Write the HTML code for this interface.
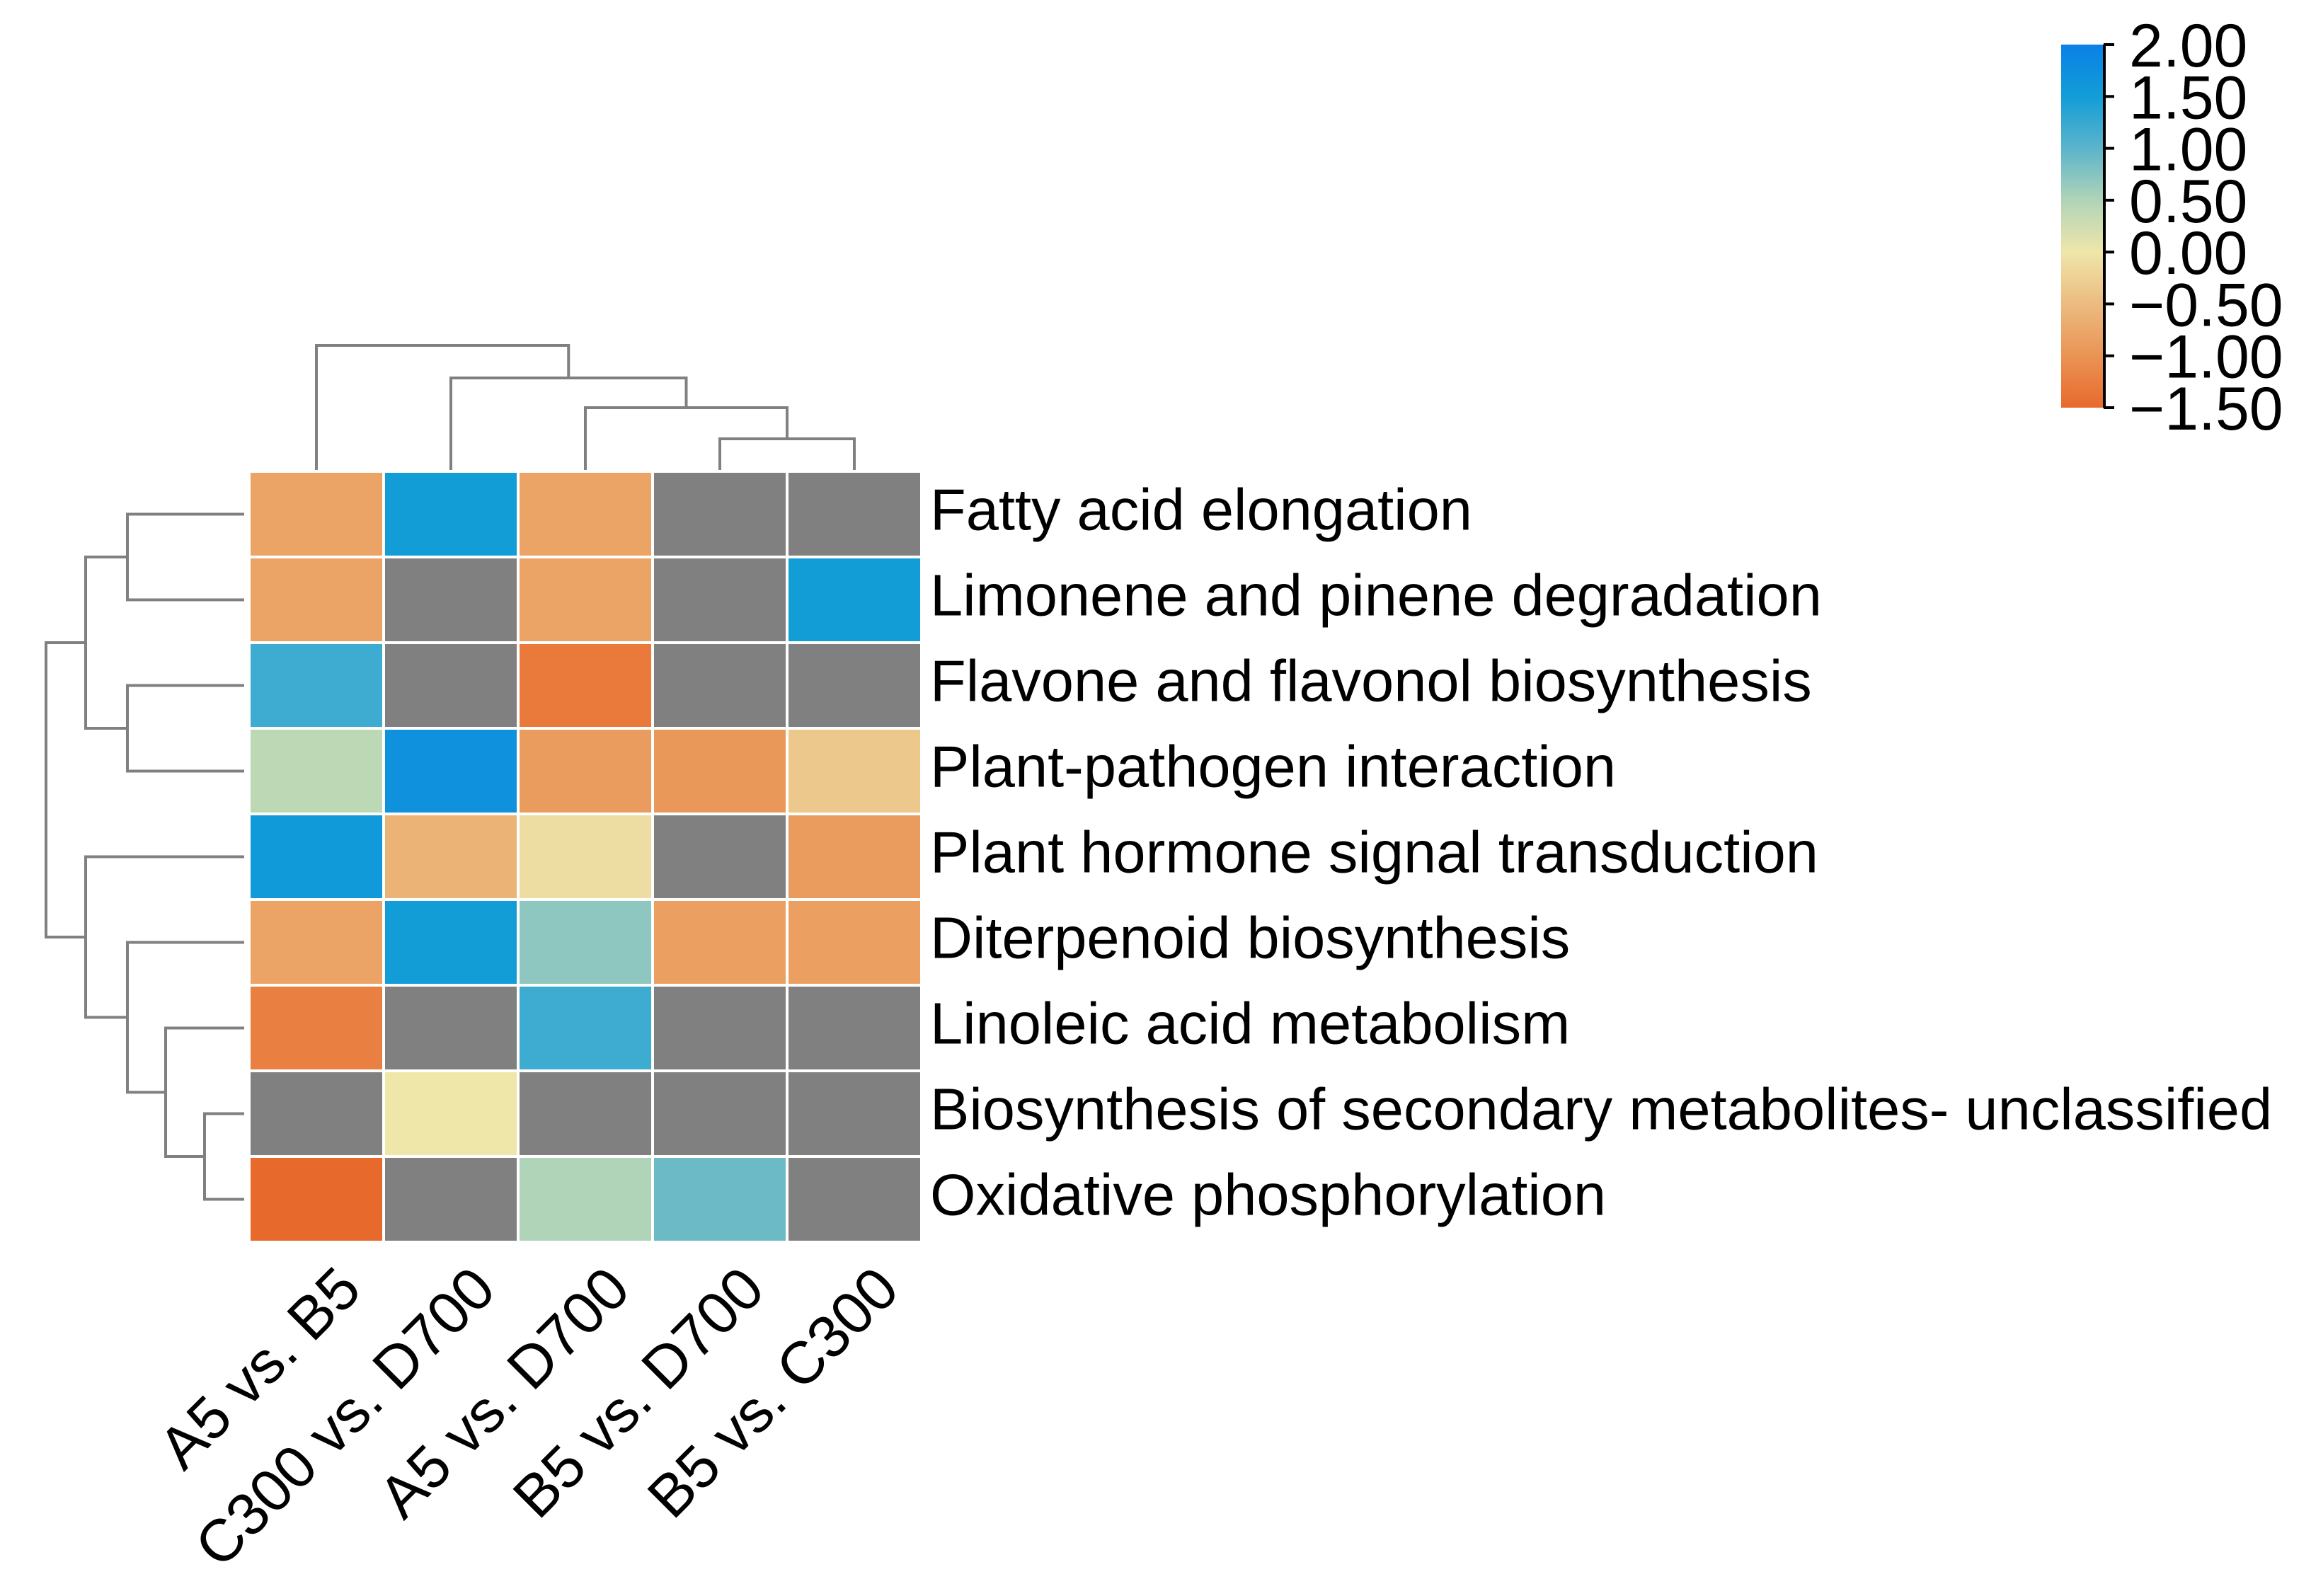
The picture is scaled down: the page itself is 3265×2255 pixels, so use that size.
<!DOCTYPE html>
<html><head><meta charset="utf-8"><style>
html,body{margin:0;padding:0;background:#fff;}
svg{display:block;font-family:"Liberation Sans",Arial,sans-serif;}
</style></head><body>
<svg id="chart" width="3265" height="2255" viewBox="0 0 3265 2255" xmlns="http://www.w3.org/2000/svg">
<g id="cells"></g>
<g id="dendro"></g>
<g id="rowlabels"></g>
<g id="collabels"></g>
<g id="cbar"></g>
</svg>
<script>
const rowNames = ["Fatty acid elongation","Limonene and pinene degradation","Flavone and flavonol biosynthesis","Plant-pathogen interaction","Plant hormone signal transduction","Diterpenoid biosynthesis","Linoleic acid metabolism","Biosynthesis of secondary metabolites- unclassified","Oxidative phosphorylation"];
const colNames = ["A5 vs. B5","C300 vs. D700","A5 vs. D700","B5 vs. D700","B5 vs. C300"];
const colA5B5 = [-0.8,-0.8,1.2,0.4,1.55,-0.8,-1.25,null,-1.5];
const colC300D700 = [1.5,null,null,1.7,-0.6,1.5,null,0.0,null];
const colA5D700 = [-0.8,-0.8,-1.3,-0.9,-0.1,0.7,1.2,null,0.5];
const colB5D700 = [null,null,null,-0.95,null,-0.85,null,null,0.9];
const colB5C300 = [null,1.5,null,-0.35,-0.9,-0.85,null,null,null];
const cbTicks = [2.0,1.5,1.0,0.5,0.0,-0.5,-1.0,-1.5];
const cbTickLabels = ["2.00","1.50","1.00","0.50","0.00","\u22120.50","\u22121.00","\u22121.50"];
const stopVals = [-1.5,-1.0,-0.5,0,0.5,1.0,1.5,2.0];
const stopCols = ["#e8692c","#ea9455","#ecbb80","#efe6aa","#b0d4b8","#5cb4cb","#129dd7","#0a80e6"];

const NS="http://www.w3.org/2000/svg";
function mk(tag,attrs,parent){const el=document.createElementNS(NS,tag);for(const k in attrs)el.setAttribute(k,attrs[k]);parent.appendChild(el);return el;}
const X0=352,CW=190,Y0=666,RH=121;
const xS=i=>X0+i*CW, yS=j=>Y0+j*RH;
const vmin=-1.5,vmax=2.0;
function hex2rgb(h){return [1,3,5].map(i=>parseInt(h.substr(i,2),16));}
function cmap(v){
  v=Math.max(vmin,Math.min(vmax,v));
  for(let i=0;i<stopVals.length-1;i++){
    if(v<=stopVals[i+1]){const t=(v-stopVals[i])/(stopVals[i+1]-stopVals[i]);
      const a=hex2rgb(stopCols[i]),b=hex2rgb(stopCols[i+1]);
      return "rgb("+a.map((c,k)=>Math.round(c+(b[k]-c)*t)).join(",")+")";}
  }
  return stopCols[stopCols.length-1];
}
const cols=[colA5B5,colC300D700,colA5D700,colB5D700,colB5C300];
const gC=document.getElementById('cells');
cols.forEach((col,i)=>col.forEach((v,j)=>{
  const r=mk('rect',{x:xS(i),y:yS(j),width:CW,height:RH,fill:v===null?"#808080":cmap(v),stroke:"#fff","stroke-width":4},gC);
  
  
}));
const gR=document.getElementById('rowlabels');
rowNames.forEach((n,j)=>{
  const t=mk('text',{x:1314,y:yS(j)+RH/2+22,"font-size":83,fill:"#000"},gR);
  t.textContent=n;
  
  
});
const gL=document.getElementById('collabels');
colNames.forEach((n,i)=>{
  const lx=xS(i)+CW/2+67, ly=1826;
  const t=mk('text',{x:lx,y:ly,"font-size":84,fill:"#000","text-anchor":"end",transform:"rotate(-45 "+lx+" "+ly+")"},gL);
  t.textContent=n;
  
  
});
const gD=document.getElementById('dendro');
function path(d){const p=mk('path',{d:d,fill:"none",stroke:"#808080","stroke-width":4},gD);
  
  }
const ccx=i=>xS(i)+CW/2, TOPY=664;
function U(x1,y1,x2,y2,h){path(`M${x1},${y1}V${h}H${x2}V${y2}`);}
U(ccx(3),TOPY,ccx(4),TOPY,620);
U(ccx(2),TOPY,(ccx(3)+ccx(4))/2,620,576);
const m2=(ccx(2)+(ccx(3)+ccx(4))/2)/2;
U(ccx(1),TOPY,m2,576,534);
const m3=(ccx(1)+m2)/2;
U(ccx(0),TOPY,m3,534,488);
const ry=j=>yS(j)+RH/2, RX=345;
function L(y1,x1,y2,x2,h){path(`M${x1},${y1}H${h}V${y2}H${x2}`);}
L(ry(0),RX,ry(1),RX,180);
L(ry(2),RX,ry(3),RX,180);
const ma=(ry(0)+ry(1))/2,mb=(ry(2)+ry(3))/2;
L(ma,180,mb,180,121);
L(ry(7),RX,ry(8),RX,289);
const mc=(ry(7)+ry(8))/2;
L(ry(6),RX,mc,289,234);
const md=(ry(6)+mc)/2;
L(ry(5),RX,md,234,180);
const me=(ry(5)+md)/2;
L(ry(4),RX,me,180,121);
const mf=(ry(4)+me)/2;
L((ma+mb)/2,121,mf,121,65);
const gB=document.getElementById('cbar');
const CBX=2912,CBW=60,CBT=63,CBB=576;
const cbY=v=>CBT+(vmax-v)/(vmax-vmin)*(CBB-CBT);
const defs=mk('defs',{},gB);
const lg=mk('linearGradient',{id:'cg',x1:0,y1:1,x2:0,y2:0},defs);
stopVals.forEach((v,i)=>mk('stop',{offset:(v-vmin)/(vmax-vmin),"stop-color":stopCols[i]},lg));
const cr=mk('rect',{x:CBX,y:CBT,width:CBW,height:CBB-CBT,fill:"url(#cg)"},gB);


mk('line',{x1:CBX+CBW+1,y1:CBT,x2:CBX+CBW+1,y2:CBB,stroke:"#000","stroke-width":4},gB);
cbTicks.forEach((v,i)=>{
  const y=cbY(v);
  const tk=mk('line',{x1:CBX+CBW,y1:y,x2:CBX+CBW+15,y2:y,stroke:"#000","stroke-width":4},gB);
  
  
  const t=mk('text',{x:3008,y:y+31,"font-size":86,fill:"#000"},gB);
  t.textContent=cbTickLabels[i];
  
  
});
</script>
</body></html>
